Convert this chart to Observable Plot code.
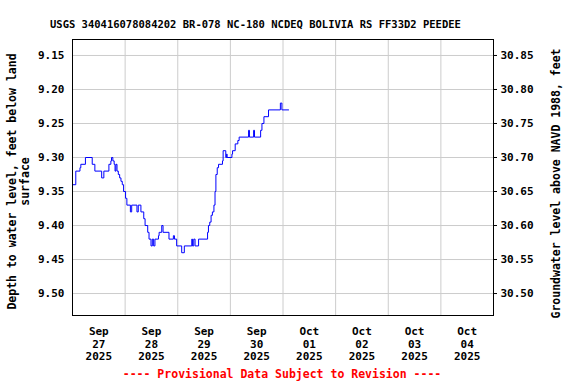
<!DOCTYPE html>
<html>
<head>
<meta charset="utf-8">
<script src="https://cdn.jsdelivr.net/npm/d3@7"></script>
<script src="https://cdn.jsdelivr.net/npm/@observablehq/plot@0.6"></script>
<style>
  html, body { margin: 0; padding: 0; background: #fff; }
</style>
</head>
<body>
<div id="chart"></div>
<script>
const titleText = "USGS 340416078084202 BR-078 NC-180 NCDEQ BOLIVIA RS FF33D2 PEEDEE";
const leftTitle = "Depth to water level, feet below land\nsurface";
const rightTitle = "Groundwater level above NAVD 1988, feet";
const captionText = "---- Provisional Data Subject to Revision ----";

// Series start: 2025-09-27 00:00; offsets in hours
const startUTC = Date.UTC(2025, 8, 27, 0, 0);
const hoursFromStart = [
  0, 1.5, 3.4, 3.8, 5.9, 9.0, 10.2, 13.3, 14.3, 16.6, 17.5, 17.8, 18.4, 19.0, 19.4, 19.8,
  20.3, 20.9, 21.5, 22.1, 22.7, 23.3, 24.2, 24.8, 26.4, 27.0, 29.4, 30.0, 31.2, 32.5, 33.1,
  34.3, 34.9, 35.8, 36.4, 37.0, 37.6, 39.2, 39.5, 40.7, 41.3, 44.0, 46.0, 46.5, 47.5, 49.8,
  51.0, 54.4, 54.7, 55.3, 55.9, 57.5, 61.6, 62.0, 62.6, 63.2, 63.8, 64.5, 65.0, 65.4, 66.0,
  66.6, 68.4, 68.7, 69.9, 70.3, 70.5, 72.7, 73.0, 74.2, 75.4, 76.0, 80.3, 80.7, 82.6, 83.0,
  85.8, 86.4, 87.3, 89.4, 94.8, 95.5, 98.6
];
const depthFt = [
  9.34, 9.32, 9.315, 9.31, 9.30, 9.31, 9.32, 9.33, 9.32, 9.31, 9.305, 9.30, 9.305, 9.31, 9.32, 9.31,
  9.32, 9.325, 9.33, 9.335, 9.34, 9.35, 9.36, 9.37, 9.38, 9.37, 9.38, 9.37, 9.38, 9.39, 9.40,
  9.41, 9.42, 9.43, 9.42, 9.43, 9.42, 9.415, 9.41, 9.40, 9.41, 9.42, 9.415, 9.42, 9.43, 9.44,
  9.43, 9.42, 9.43, 9.42, 9.43, 9.42, 9.41, 9.40, 9.395, 9.385, 9.38, 9.37, 9.35, 9.325, 9.315,
  9.31, 9.305, 9.29, 9.30, 9.295, 9.30, 9.295, 9.29, 9.28, 9.275, 9.27, 9.26, 9.27, 9.26, 9.27,
  9.26, 9.25, 9.24, 9.23, 9.22, 9.23, 9.23
];

// Land-surface datum relation: elevation = datum - depth
const datumFt = 40.00;
const depthTicks = [9.15, 9.20, 9.25, 9.30, 9.35, 9.40, 9.45, 9.50];
const elevTicks = [30.85, 30.80, 30.75, 30.70, 30.65, 30.60, 30.55, 30.50];
const dayLabels = ["Sep\n27\n2025", "Sep\n28\n2025", "Sep\n29\n2025", "Sep\n30\n2025",
                   "Oct\n01\n2025", "Oct\n02\n2025", "Oct\n03\n2025", "Oct\n04\n2025"];
const yDomain = [9.1265, 9.5323];
const xDomain = [new Date(Date.UTC(2025, 8, 27)), new Date(Date.UTC(2025, 9, 5))];

const data = hoursFromStart.map((h, i) => ({date: new Date(startUTC + h * 3600e3), depth: depthFt[i]}));
const dayNoons = dayLabels.map((_, i) => new Date(Date.UTC(2025, 8, 27 + i, 12)));
const midnights = d3.range(1, 8).map(i => new Date(Date.UTC(2025, 8, 27 + i)));
const labelOf = new Map(dayNoons.map((d, i) => [+d, dayLabels[i]]));

const font = "DejaVu Sans Mono";

const chart = Plot.plot({
  width: 576,
  height: 384,
  marginLeft: 72,
  marginRight: 83,
  marginTop: 39,
  marginBottom: 69,
  style: {fontFamily: font, fontWeight: "bold", fontSize: "11px", color: "black", background: "white"},
  x: {type: "utc", domain: xDomain},
  y: {domain: yDomain, reverse: true},
  marks: [
    Plot.gridX(midnights, {stroke: "#cccccc", strokeOpacity: 1}),
    Plot.gridY(depthTicks, {stroke: "#cccccc", strokeOpacity: 1}),
    Plot.line(data, {x: "date", y: "depth", curve: "step-after", stroke: "#0000ff", strokeWidth: 1}),
    Plot.frame({stroke: "black", strokeWidth: 1}),
    Plot.axisY({anchor: "left", ticks: depthTicks, tickFormat: d => d.toFixed(2), tickSize: 0, tickPadding: 8, label: null, fontSize: 11}),
    Plot.axisY({anchor: "right", ticks: elevTicks.map(e => datumFt - e), tickFormat: d => (datumFt - d).toFixed(2), tickSize: 3, tickPadding: 4, label: null, fontSize: 11}),
    Plot.axisX({ticks: dayNoons, tickFormat: d => labelOf.get(+d), tickSize: 0, tickPadding: 11, lineHeight: 1.14, label: null, fontSize: 11}),
    Plot.text([titleText], {frameAnchor: "top-left", textAnchor: "start", dx: -22.5, dy: -19, fontSize: 10.5, fill: "black"}),
    Plot.text([leftTitle], {frameAnchor: "left", textAnchor: "middle", lineAnchor: "middle", dx: -54, dy: 4, rotate: -90, fontSize: 11.5, lineHeight: 1.07, fill: "black"}),
    Plot.text([rightTitle], {frameAnchor: "right", textAnchor: "middle", lineAnchor: "middle", dx: 63, dy: 6, rotate: -90, fontSize: 11.5, fill: "black"}),
    Plot.text([captionText], {frameAnchor: "bottom", dy: 62, dx: -1, fontSize: 11.5, fill: "red"})
  ]
});
document.getElementById("chart").appendChild(chart);
</script>
</body>
</html>
